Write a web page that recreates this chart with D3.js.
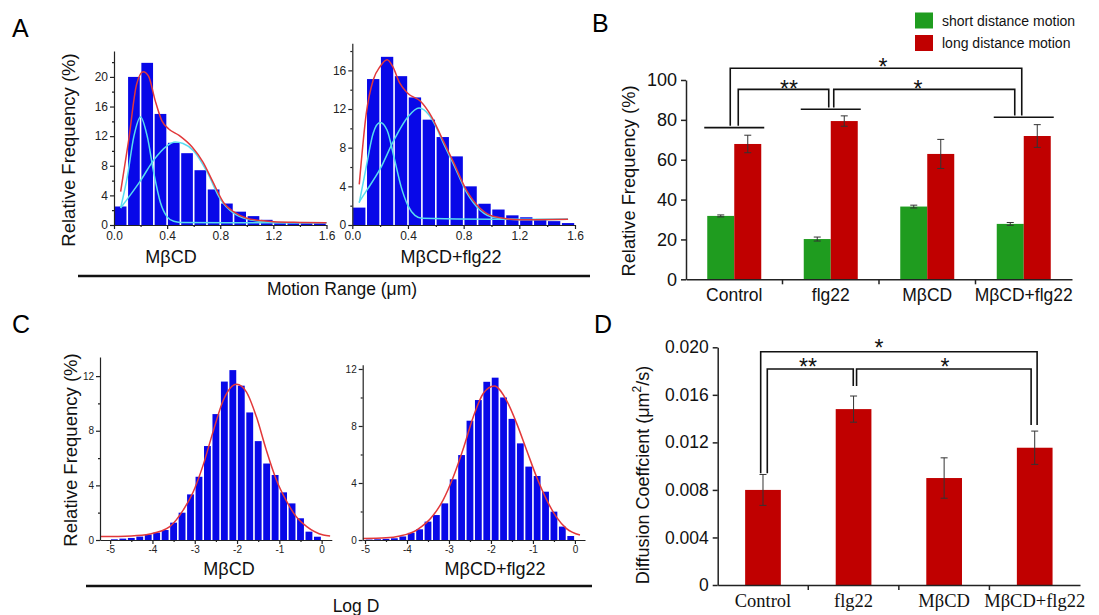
<!DOCTYPE html>
<html>
<head>
<meta charset="utf-8">
<script src="https://cdn.jsdelivr.net/npm/d3@7"></script>
<style>
body { margin: 0; background: #fff; }
svg { display: block; font-family: "Liberation Sans", Arial, sans-serif; }
</style>
</head>
<body>
<svg id="fig" width="1099" height="615"></svg>
<script>
// ---- A: motion range histograms (bin width 0.1 um, bin starts at 0.0)
var rangeBinCenters = [0.05, 0.15, 0.25, 0.35, 0.45, 0.55, 0.65, 0.75, 0.85, 0.95, 1.05, 1.15, 1.25, 1.35, 1.45, 1.55];
var rangeMbcd    = [2.5, 20.0, 21.9, 15.0, 11.1, 9.7, 7.4, 4.8, 2.9, 1.8, 1.2, 0.7, 0.4, 0.3, 0.3, 0.3];
var rangeMbcdFlg = [1.8, 15.1, 17.4, 15.4, 13.2, 10.9, 9.1, 7.1, 4.0, 2.2, 1.6, 1.0, 0.8, 0.6, 0.4, 0.2];

// fitted curves  [x, %]
var fitMbcdSum   = [[0.05,4.5],[0.11,11.4],[0.17,19.0],[0.22,20.7],[0.26,20.1],[0.31,16.8],[0.36,14.1],[0.41,13.0],[0.49,12.1],[0.59,10.5],[0.67,8.5],[0.74,6.0],[0.83,2.9],[0.9,1.8],[1.0,0.9],[1.1,0.6],[1.2,0.45],[1.4,0.35],[1.6,0.3]];
var fitMbcdShort = [[0.05,2.3],[0.1,6.5],[0.15,12.0],[0.2,14.6],[0.25,12.0],[0.3,7.0],[0.35,3.0],[0.4,1.1],[0.45,0.5],[0.5,0.35],[1.0,0.3],[1.6,0.3]];
var fitMbcdLong  = [[0.05,2.3],[0.1,3.5],[0.2,6.0],[0.3,8.8],[0.4,10.7],[0.46,11.2],[0.52,11.0],[0.6,10.0],[0.7,7.2],[0.8,3.5],[0.9,1.6],[1.0,0.8],[1.1,0.5],[1.2,0.35],[1.6,0.3]];
var fitFlgSum    = [[0.05,4.2],[0.1,11.5],[0.15,15.0],[0.2,16.4],[0.25,17.1],[0.29,16.4],[0.34,14.7],[0.4,13.6],[0.49,12.8],[0.57,11.2],[0.65,8.8],[0.73,6.4],[0.82,3.6],[0.92,1.7],[1.01,0.9],[1.2,0.55],[1.55,0.6]];
var fitFlgShort  = [[0.05,2.3],[0.1,6.0],[0.15,9.5],[0.2,10.6],[0.25,9.8],[0.3,7.0],[0.35,4.0],[0.4,2.0],[0.45,1.0],[0.5,0.7],[1.0,0.6],[1.55,0.6]];
var fitFlgLong   = [[0.05,2.4],[0.1,3.5],[0.2,5.8],[0.3,8.8],[0.4,11.2],[0.48,12.1],[0.55,11.4],[0.6,10.2],[0.65,8.6],[0.73,6.2],[0.82,3.4],[0.92,1.5],[1.01,0.8],[1.2,0.55],[1.55,0.6]];

// ---- C: log D histograms (bin width 0.2)
var logBinCenters = [-4.9, -4.7, -4.5, -4.3, -4.1, -3.9, -3.7, -3.5, -3.3, -3.1, -2.9, -2.7, -2.5, -2.3, -2.1, -1.9, -1.7, -1.5, -1.3, -1.1, -0.9, -0.7, -0.5, -0.3, -0.1];
var logDMbcd    = [0.05, 0.1, 0.15, 0.25, 0.4, 0.54, 0.73, 1.27, 2.0, 3.34, 4.63, 6.88, 9.22, 11.6, 12.44, 11.3, 9.34, 7.24, 5.6, 4.76, 3.49, 2.68, 1.59, 0.61, 0.24];
var logDMbcdFlg = [0.03, 0.05, 0.08, 0.12, 0.25, 0.5, 0.75, 1.29, 1.75, 2.57, 4.26, 5.96, 8.37, 9.82, 11.1, 11.39, 10.0, 8.5, 6.78, 5.15, 4.49, 3.39, 1.99, 0.94, 0.28];
var fitLogMbcd    = [[-5.24,0.25],[-4.5,0.3],[-4.06,0.44],[-3.59,0.98],[-3.27,2.2],[-3.04,3.5],[-2.8,5.5],[-2.57,7.9],[-2.33,10.2],[-2.01,11.4],[-1.78,10.85],[-1.54,9.0],[-1.31,6.6],[-1.07,4.4],[-0.84,2.9],[-0.6,1.7],[-0.36,1.0],[0.04,0.37],[0.2,0.3]];
var fitLogMbcdFlg = [[-5.05,0.1],[-4.5,0.15],[-4.17,0.28],[-3.77,0.7],[-3.37,1.75],[-3.14,2.8],[-2.9,4.4],[-2.66,6.4],[-2.42,8.65],[-2.18,10.3],[-1.92,10.8],[-1.63,9.8],[-1.39,8.2],[-1.15,6.3],[-0.91,4.4],[-0.67,2.8],[-0.44,1.6],[-0.2,0.8],[0.12,0.35]];

// ---- B and D: group bar charts
var groups = ["Control", "flg22", "MβCD", "MβCD+flg22"];
var shortMotion = [31.8, 20.2, 36.5, 27.8];
var shortErr    = [0.5, 1.0, 0.7, 0.7];
var longMotion  = [67.9, 79.4, 62.9, 71.9];
var longErr     = [4.4, 2.6, 7.3, 5.7];
var diffCoef    = [0.0080, 0.0148, 0.0090, 0.01155];
var diffErr     = [0.0013, 0.0011, 0.0017, 0.0014];

var svg = d3.select("#fig");
var ink = "#222";
var blue = "#0808e8", fitRed = "#e2383a", cyan = "#58dcf0";
var barRed = "#c00000", barGreen = "#1f9c1f";

function styleAxis(sel, fs) {
    sel.selectAll("path, line").attr("stroke", ink).attr("stroke-width", 1.2);
    sel.selectAll("text").attr("fill", ink).style("font-size", fs + "px");
}

// histogram panel with Origin-like axes
function histPanel(p) {
    var x = d3.scaleLinear().domain(p.xDomain).range(p.xRange);
    var y = d3.scaleLinear().domain(p.yDomain).range(p.yRange);
    var g = svg.append("g");
    var half = p.binWidth / 2;
    g.selectAll("rect").data(p.values).join("rect")
        .attr("x", function(d, i) { return x(p.centers[i] - half) + 0.8; })
        .attr("width", function(d, i) { return x(p.centers[i] + half) - x(p.centers[i] - half) - 1.6; })
        .attr("y", function(d) { return y(d); })
        .attr("height", function(d) { return y(0) - y(d); })
        .attr("fill", blue);
    var line = d3.line().x(function(d) { return x(d[0]); }).y(function(d) { return y(d[1]); })
        .curve(d3.curveMonotoneX);
    p.curves.forEach(function(cv) {
        g.append("path").attr("d", line(cv.pts)).attr("fill", "none")
            .attr("stroke", cv.color).attr("stroke-width", 1.5);
    });
    var y0 = p.yRange[0], x0 = p.xRange[0];
    var ya = g.append("g").attr("transform", "translate(" + x0 + ",0)")
        .call(d3.axisLeft(y).tickValues(p.yTicks).tickSize(4).tickSizeOuter(0).tickPadding(2));
    styleAxis(ya, p.fs);
    var ym = g.append("g").attr("transform", "translate(" + x0 + ",0)")
        .call(d3.axisLeft(y).tickValues(p.yMinor).tickSize(2).tickFormat(""));
    ym.select(".domain").remove();
    styleAxis(ym, p.fs);
    var xa = g.append("g").attr("transform", "translate(0," + y0 + ")")
        .call(d3.axisBottom(x).tickValues(p.xTicks).tickSize(4).tickSizeOuter(0).tickPadding(2)
            .tickFormat(p.xFmt));
    styleAxis(xa, p.fs);
    var xm = g.append("g").attr("transform", "translate(0," + y0 + ")")
        .call(d3.axisBottom(x).tickValues(p.xMinor).tickSize(2).tickFormat(""));
    xm.select(".domain").remove();
    styleAxis(xm, p.fs);
    g.append("text").attr("x", p.title[0]).attr("y", p.title[1])
        .attr("text-anchor", "middle").style("font-size", "18px").attr("fill", "#111")
        .text(p.title[2]);
}

var fmt1 = d3.format(".1f");
var fmtInt = function(d) { return String(d); };

histPanel({
    xDomain: [0, 1.6], xRange: [114, 326.5], yDomain: [0, 23.5], yRange: [225, 51],
    centers: rangeBinCenters, values: rangeMbcd, binWidth: 0.1,
    curves: [{ pts: fitMbcdShort, color: cyan }, { pts: fitMbcdLong, color: cyan }, { pts: fitMbcdSum, color: fitRed }],
    yTicks: [0, 4, 8, 12, 16, 20], yMinor: [2, 6, 10, 14, 18, 22],
    xTicks: [0, 0.4, 0.8, 1.2, 1.6], xMinor: [0.2, 0.6, 1.0, 1.4],
    xFmt: fmt1, fs: 12, title: [171, 263, "MβCD"]
});
histPanel({
    xDomain: [0, 1.6], xRange: [352.3, 575], yDomain: [0, 18.8], yRange: [225, 43.3],
    centers: rangeBinCenters, values: rangeMbcdFlg, binWidth: 0.1,
    curves: [{ pts: fitFlgShort, color: cyan }, { pts: fitFlgLong, color: cyan }, { pts: fitFlgSum, color: fitRed }],
    yTicks: [0, 4, 8, 12, 16], yMinor: [2, 6, 10, 14, 18],
    xTicks: [0, 0.4, 0.8, 1.2, 1.6], xMinor: [0.2, 0.6, 1.0, 1.4],
    xFmt: fmt1, fs: 12, title: [451, 263, "MβCD+flg22"]
});
histPanel({
    xDomain: [-5.24, 0.24], xRange: [100, 331.8], yDomain: [0, 13.4], yRange: [540, 357],
    centers: logBinCenters, values: logDMbcd, binWidth: 0.2,
    curves: [{ pts: fitLogMbcd, color: fitRed }],
    yTicks: [0, 4, 8, 12], yMinor: [2, 6, 10],
    xTicks: [-5, -4, -3, -2, -1, 0], xMinor: [-4.5, -3.5, -2.5, -1.5, -0.5],
    xFmt: fmtInt, fs: 10, title: [229, 575, "MβCD"]
});
histPanel({
    xDomain: [-5.055, 0.24], xRange: [362.7, 585], yDomain: [0, 12.3], yRange: [540, 364.7],
    centers: logBinCenters, values: logDMbcdFlg, binWidth: 0.2,
    curves: [{ pts: fitLogMbcdFlg, color: fitRed }],
    yTicks: [0, 4, 8, 12], yMinor: [2, 6, 10],
    xTicks: [-5, -4, -3, -2, -1, 0], xMinor: [-4.5, -3.5, -2.5, -1.5, -0.5],
    xFmt: fmtInt, fs: 10, title: [495, 575, "MβCD+flg22"]
});

// shared y labels, rules and x titles for A and C
function rotLabel(x, y, fs, txt) {
    return svg.append("text").attr("transform", "translate(" + x + "," + y + ") rotate(-90)")
        .attr("text-anchor", "middle").attr("dominant-baseline", "central")
        .style("font-size", fs + "px").attr("fill", "#111").text(txt);
}
rotLabel(68, 150, 18.5, "Relative Frequency (%)");
rotLabel(70, 450, 18.5, "Relative Frequency (%)");
svg.append("line").attr("x1", 78).attr("x2", 590).attr("y1", 276).attr("y2", 276)
    .attr("stroke", "#111").attr("stroke-width", 2.6);
svg.append("line").attr("x1", 86).attr("x2", 592).attr("y1", 586).attr("y2", 586)
    .attr("stroke", "#111").attr("stroke-width", 2.6);
svg.append("text").attr("x", 342).attr("y", 295).attr("text-anchor", "middle")
    .style("font-size", "17.5px").attr("fill", "#111").text("Motion Range (μm)");
svg.append("text").attr("x", 356).attr("y", 612).attr("text-anchor", "middle")
    .style("font-size", "17.5px").attr("fill", "#111").text("Log D");

// panel letters
[["A", 12, 37], ["B", 592, 32], ["C", 12, 333], ["D", 594, 333]].forEach(function(l) {
    svg.append("text").attr("x", l[1]).attr("y", l[2]).style("font-size", "25px")
        .attr("fill", "#000").text(l[0]);
});

// ---- B: short vs long distance motion
var xB = d3.scaleBand().domain(groups).range([686, 1072]);
var yB = d3.scaleLinear().domain([0, 100]).range([279.3, 80]);
var subB = d3.scaleBand().domain(["short", "long"]).range([-27, 27]);
var gB = svg.append("g");
var seriesB = [
    { key: "short", vals: shortMotion, errs: shortErr, color: barGreen },
    { key: "long", vals: longMotion, errs: longErr, color: barRed }
];
function cB(gname) { return xB(gname) + xB.bandwidth() / 2; }
seriesB.forEach(function(s) {
    gB.selectAll("rect." + s.key).data(s.vals).join("rect").attr("class", s.key)
        .attr("x", function(d, i) { return cB(groups[i]) + subB(s.key); })
        .attr("width", subB.bandwidth())
        .attr("y", function(d) { return yB(d); })
        .attr("height", function(d) { return yB(0) - yB(d); })
        .attr("fill", s.color);
    s.vals.forEach(function(v, i) {
        var cx = cB(groups[i]) + subB(s.key) + subB.bandwidth() / 2;
        var e = s.errs[i];
        gB.append("path").attr("fill", "none").attr("stroke", "#333").attr("stroke-width", 1)
            .attr("d", "M" + cx + "," + yB(v - e) + "V" + yB(v + e) +
                "M" + (cx - 3.5) + "," + yB(v + e) + "H" + (cx + 3.5) +
                "M" + (cx - 3.5) + "," + yB(v - e) + "H" + (cx + 3.5));
    });
});
var yaB = gB.append("g").attr("transform", "translate(686,0)")
    .call(d3.axisLeft(yB).tickValues([0, 20, 40, 60, 80, 100]).tickSize(5).tickSizeOuter(0).tickPadding(4));
yaB.selectAll("path, line").attr("stroke", ink).attr("stroke-width", 1.5);
yaB.selectAll("text").attr("fill", "#111").style("font-size", "18px");
var xaB = gB.append("g").attr("transform", "translate(0," + yB(0) + ")")
    .call(d3.axisBottom(xB).tickSize(0).tickSizeOuter(0).tickPadding(9));
xaB.selectAll("path").attr("stroke", ink).attr("stroke-width", 1.5);
xaB.selectAll("text").attr("fill", "#111").style("font-size", "17.5px");
groups.slice(1).forEach(function(gname) {
    gB.append("line").attr("x1", xB(gname)).attr("x2", xB(gname))
        .attr("y1", yB(0)).attr("y2", yB(0) + 5).attr("stroke", ink).attr("stroke-width", 1.5);
});
rotLabel(628, 181, 18.3, "Relative Frequency (%)");

// significance marks
function sigPath(g, d) {
    g.append("path").attr("d", d).attr("fill", "none").attr("stroke", "#111").attr("stroke-width", 1.6);
}
function star(g, x, yc, txt) {
    g.append("text").attr("x", x).attr("y", yc + 12.5).attr("text-anchor", "middle")
        .style("font-size", "23px").attr("fill", "#111").text(txt);
}
var groupLineB = [76.1, 85.3, null, 81.3];
groupLineB.forEach(function(v, i) {
    if (v === null) return;
    var c = cB(groups[i]);
    sigPath(gB, "M" + (c - 30) + "," + yB(v) + "H" + (c + 30));
});
var c0 = cB(groups[0]), c1 = cB(groups[1]), c3 = cB(groups[3]);
sigPath(gB, "M" + (c0 - 4) + "," + yB(77) + "V" + yB(105.9) + "H" + (c3 - 2) + "V" + yB(82.2));
sigPath(gB, "M" + (c0 + 4) + "," + yB(77) + "V" + yB(95.3) + "H" + (c1 - 2) + "V" + yB(86.2));
sigPath(gB, "M" + (c1 + 3) + "," + yB(86.2) + "V" + yB(95.3) + "H" + (c3 - 9) + "V" + yB(82.2));
star(gB, 883, 62, "*");
star(gB, 789, 84, "**");
star(gB, 918, 84, "*");

// legend B
[["short distance motion", barGreen, 12.5], ["long distance motion", barRed, 35]].forEach(function(l) {
    gB.append("rect").attr("x", 915).attr("y", l[2]).attr("width", 18).attr("height", 16).attr("fill", l[1]);
    gB.append("text").attr("x", 942).attr("y", l[2] + 13).style("font-size", "14px")
        .attr("fill", "#111").text(l[0]);
});

// ---- D: diffusion coefficient
var xD = d3.scaleBand().domain(groups).range([717.7, 1080]);
var yD = d3.scaleLinear().domain([0, 0.02]).range([585, 347.3]);
var gD = svg.append("g");
function cD(gname) { return xD(gname) + xD.bandwidth() / 2; }
var barWD = 35.7;
gD.selectAll("rect").data(diffCoef).join("rect")
    .attr("x", function(d, i) { return cD(groups[i]) - barWD / 2; })
    .attr("width", barWD)
    .attr("y", function(d) { return yD(d); })
    .attr("height", function(d) { return yD(0) - yD(d); })
    .attr("fill", barRed);
diffCoef.forEach(function(v, i) {
    var cx = cD(groups[i]), e = diffErr[i];
    gD.append("path").attr("fill", "none").attr("stroke", "#333").attr("stroke-width", 1)
        .attr("d", "M" + cx + "," + yD(v - e) + "V" + yD(v + e) +
            "M" + (cx - 3.5) + "," + yD(v + e) + "H" + (cx + 3.5) +
            "M" + (cx - 3.5) + "," + yD(v - e) + "H" + (cx + 3.5));
});
var yaD = gD.append("g").attr("transform", "translate(717.7,0)")
    .call(d3.axisLeft(yD).tickValues([0, 0.004, 0.008, 0.012, 0.016, 0.02]).tickSize(5).tickSizeOuter(0)
        .tickPadding(4).tickFormat(function(d) { return d === 0 ? "0" : d3.format(".3f")(d); }));
yaD.selectAll("path, line").attr("stroke", ink).attr("stroke-width", 1.5);
yaD.selectAll("text").attr("fill", "#111").style("font-size", "17.5px");
var xaD = gD.append("g").attr("transform", "translate(0," + yD(0) + ")")
    .call(d3.axisBottom(xD).tickSize(0).tickSizeOuter(0).tickPadding(9));
xaD.selectAll("path").attr("stroke", ink).attr("stroke-width", 1.5);
xaD.selectAll("text").attr("fill", "#111").style("font-size", "18.5px")
    .style("font-family", '"Liberation Serif", "Times New Roman", serif');
groups.slice(1).forEach(function(gname) {
    gD.append("line").attr("x1", xD(gname)).attr("x2", xD(gname))
        .attr("y1", yD(0)).attr("y2", yD(0) + 5).attr("stroke", ink).attr("stroke-width", 1.5);
});
var dLab = gD.append("text").attr("transform", "translate(643,475) rotate(-90)")
    .attr("text-anchor", "middle").attr("dominant-baseline", "central")
    .style("font-size", "18px").attr("fill", "#111");
dLab.append("tspan").text("Diffusion Coeffcient (μm");
dLab.append("tspan").attr("dy", -6).style("font-size", "12px").text("2");
dLab.append("tspan").attr("dy", 6).text("/s)");

var d0 = cD(groups[0]), d1 = cD(groups[1]), d3c = cD(groups[3]);
sigPath(gD, "M" + (d0 - 2.3) + "," + yD(0.0094) + "V" + yD(0.01963) + "H" + (d3c + 2.4) + "V" + yD(0.01346));
sigPath(gD, "M" + (d0 + 4.3) + "," + yD(0.0094) + "V" + yD(0.01817) + "H" + (d1 - 0.3) + "V" + yD(0.01674));
sigPath(gD, "M" + (d1 + 3) + "," + yD(0.01674) + "V" + yD(0.01817) + "H" + (d3c - 3.6) + "V" + yD(0.01346));
star(gD, 879, 343, "*");
star(gD, 808, 362, "**");
star(gD, 945, 362, "*");
</script>
</body>
</html>
